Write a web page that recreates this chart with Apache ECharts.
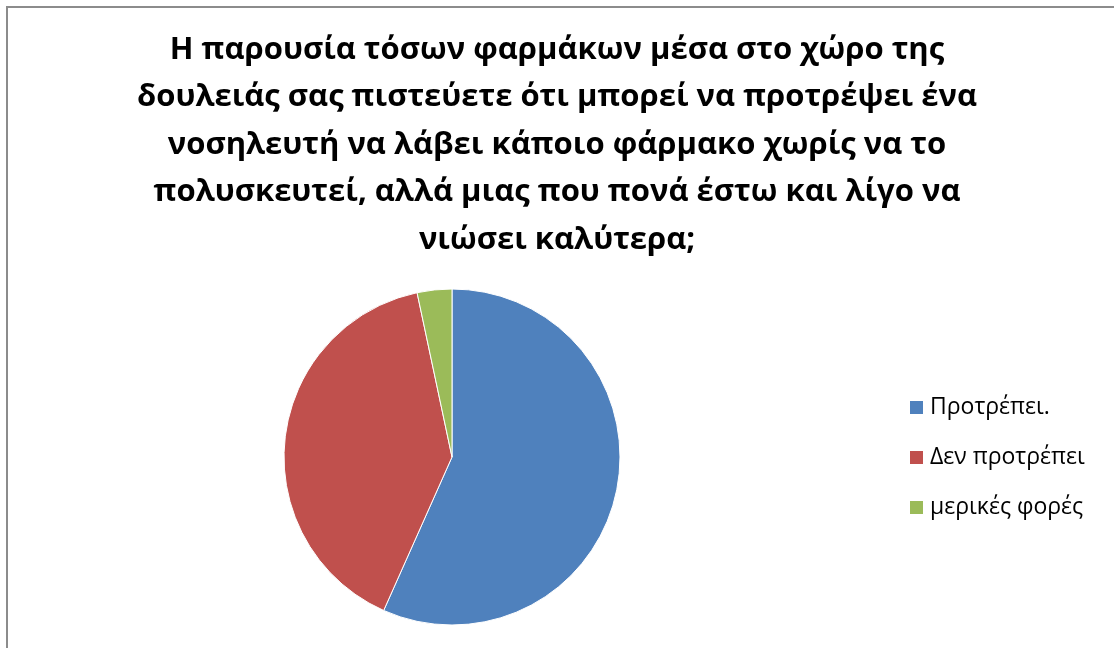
<!DOCTYPE html>
<html>
<head>
<meta charset="utf-8">
<script src="https://cdn.jsdelivr.net/npm/echarts@6/dist/echarts.min.js"></script>
<style>
  html, body { margin: 0; padding: 0; background: #fff; }
  #chart { width: 1114px; height: 648px; }
</style>
</head>
<body>
<div id="chart"></div>
<script>
// Survey answers
const titleLines = [
  'Η παρουσία τόσων φαρμάκων μέσα στο χώρο της',
  'δουλειάς σας πιστεύετε ότι μπορεί να προτρέψει ένα',
  'νοσηλευτή να λάβει κάποιο φάρμακο χωρίς να το',
  'πολυσκευτεί, αλλά μιας που πονά έστω και λίγο να',
  'νιώσει καλύτερα;'
];
const categories = ['Προτρέπει.', 'Δεν προτρέπει', 'μερικές φορές'];
const answers = [17, 12, 1];
const colors = ['#4F81BD', '#C0504D', '#9BBB59'];

const chart = echarts.init(document.getElementById('chart'));
chart.setOption({
  animation: false,
  backgroundColor: '#fff',
  graphic: [{
    type: 'rect',
    shape: { x: 7, y: 7, width: 1200, height: 800 },
    style: { fill: 'none', stroke: '#8c8c8c', lineWidth: 2 },
    silent: true
  }],
  title: {
    text: titleLines.join('\n'),
    left: 557,
    top: 26,
    padding: 0,
    textAlign: 'center',
    textStyle: {
      fontFamily: 'Open Sans',
      fontWeight: 'bold',
      fontSize: 31,
      lineHeight: 47.5,
      color: '#000'
    }
  },
  legend: {
    orient: 'vertical',
    left: 910,
    top: 396,
    padding: 0,
    itemWidth: 13,
    itemHeight: 13,
    itemGap: 27,
    icon: 'rect',
    itemStyle: { borderWidth: 0 },
    textStyle: { fontFamily: 'Open Sans', fontSize: 23, lineHeight: 20, color: '#000', padding: [0, 0, 0, 2] },
    data: categories
  },
  series: [{
    type: 'pie',
    center: [452, 457],
    radius: 168,
    startAngle: 90,
    clockwise: true,
    label: { show: false },
    labelLine: { show: false },
    itemStyle: { borderColor: '#fff', borderWidth: 1 },
    emphasis: { disabled: true },
    data: categories.map((name, i) => ({
      name,
      value: answers[i],
      itemStyle: { color: colors[i] }
    }))
  }]
});
</script>
</body>
</html>
